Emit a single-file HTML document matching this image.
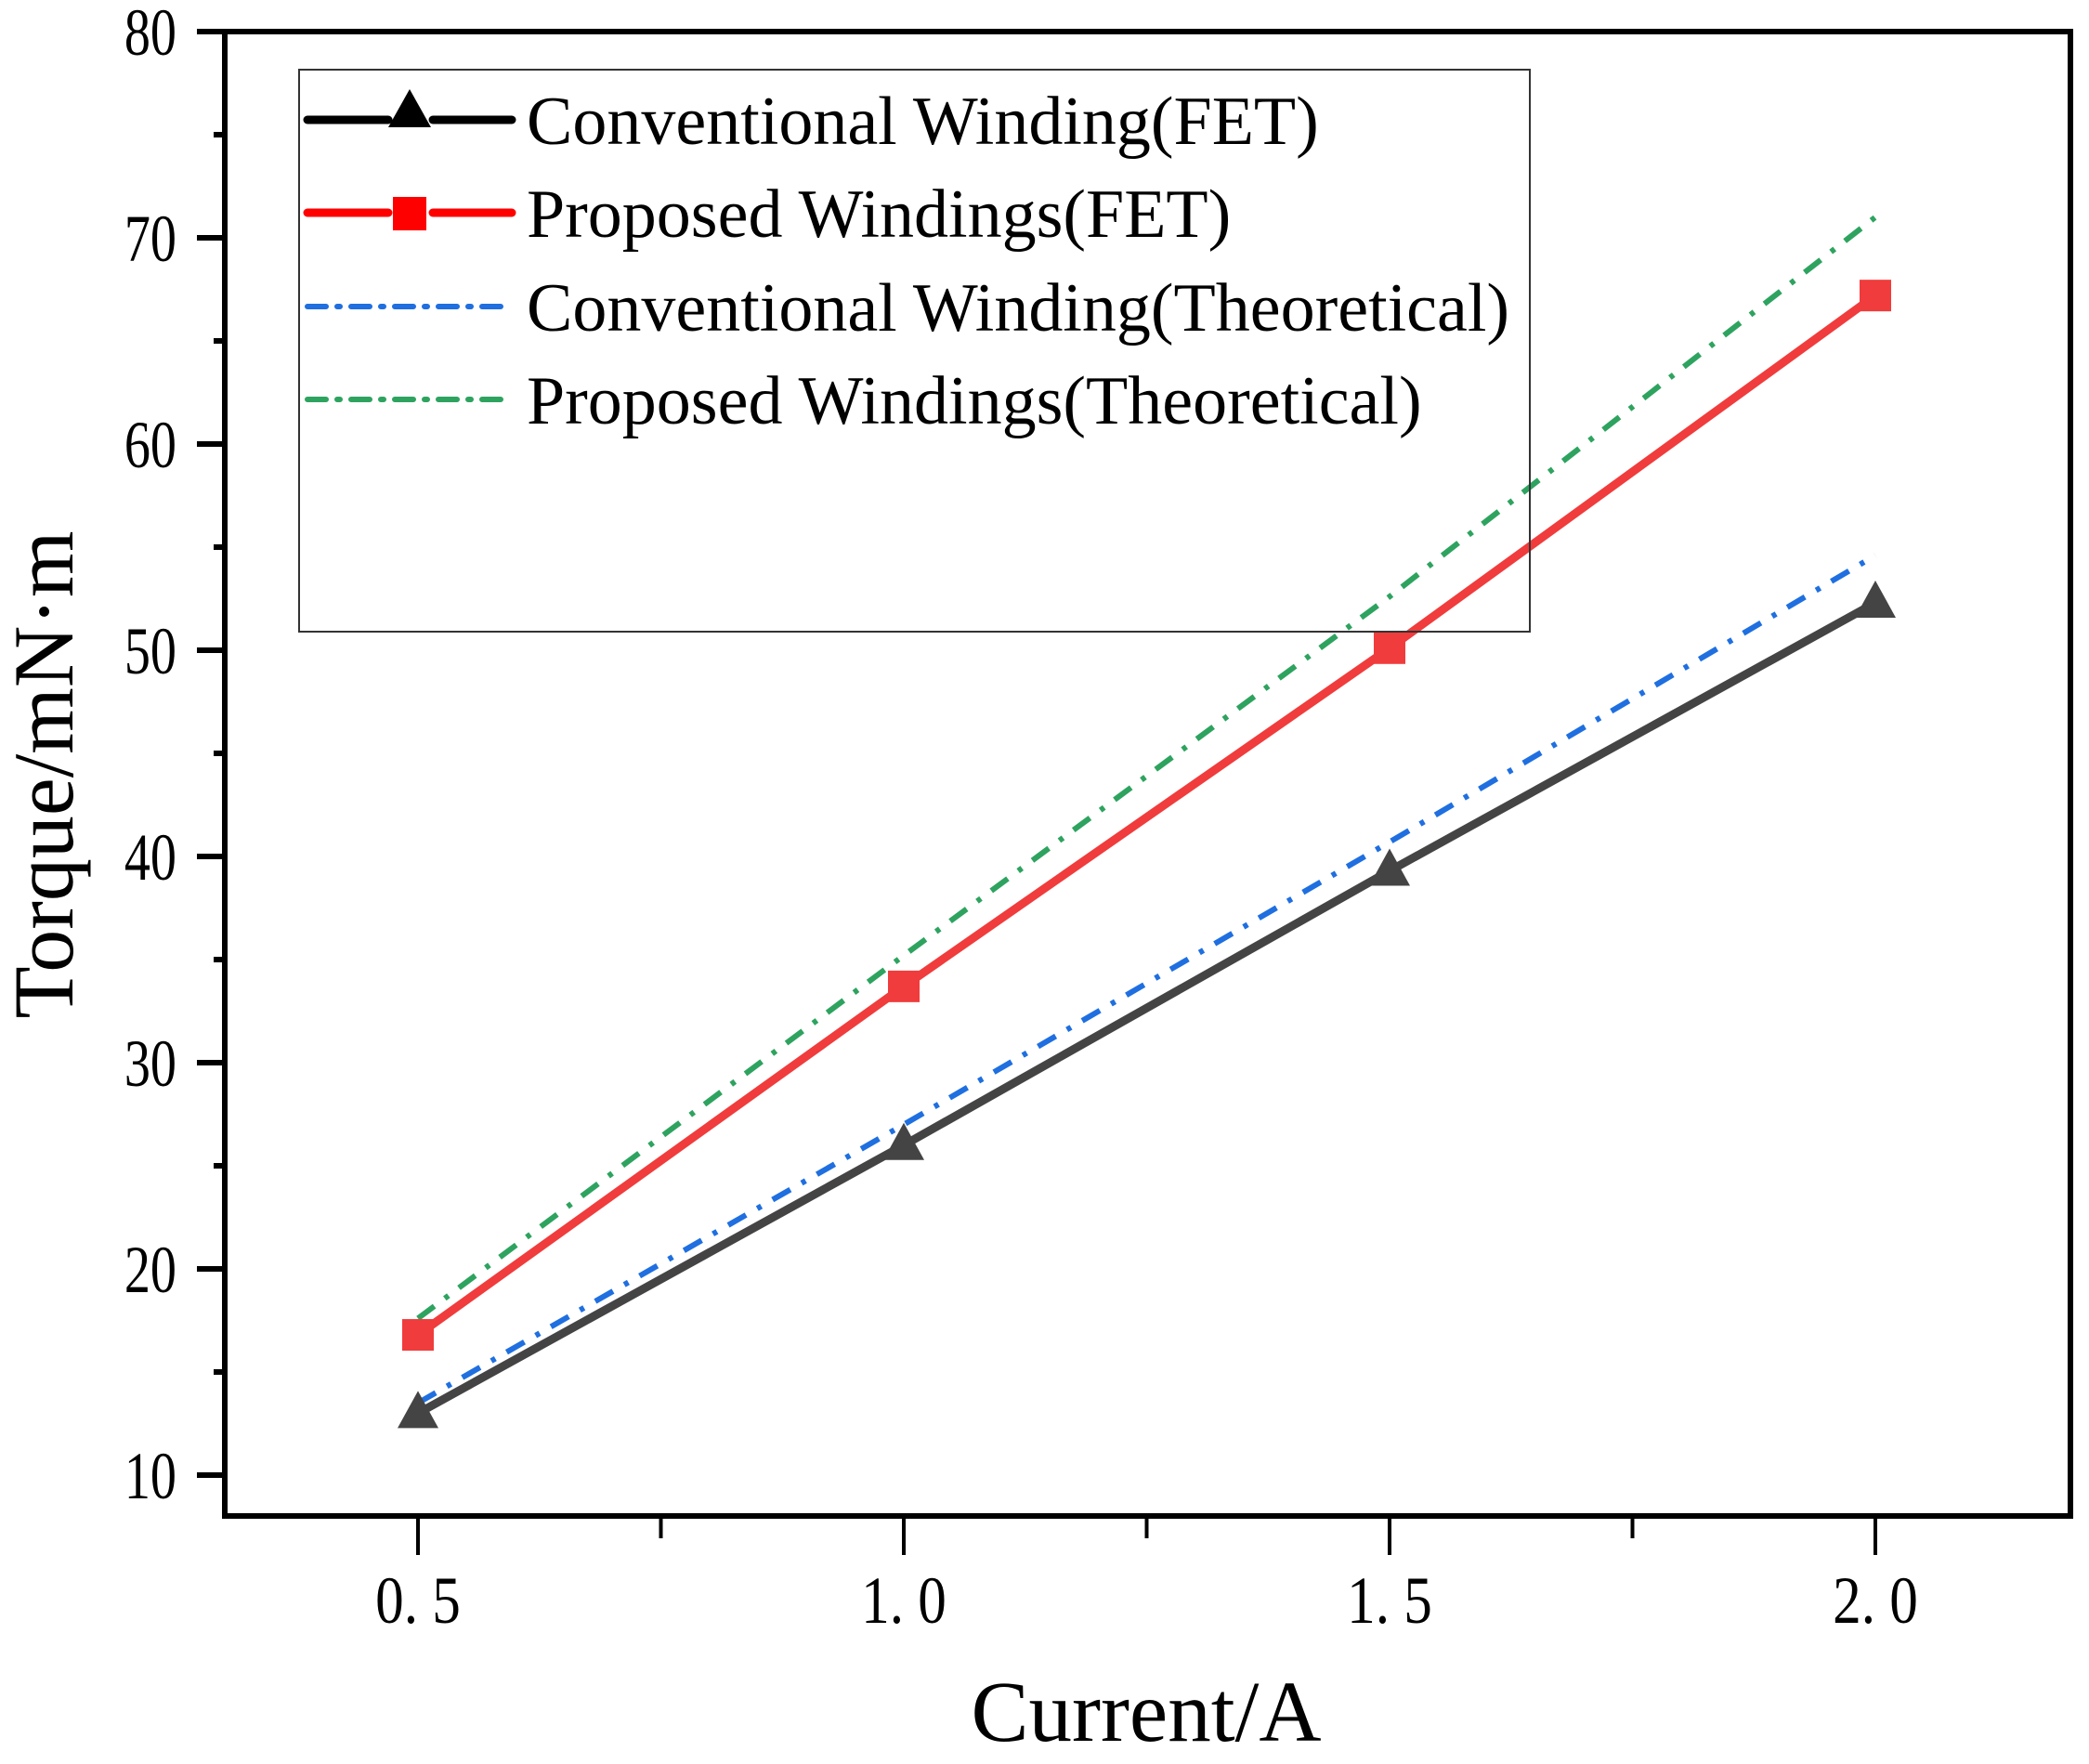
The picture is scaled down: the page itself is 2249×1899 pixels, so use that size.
<!DOCTYPE html>
<html><head><meta charset="utf-8"><style>
html,body{margin:0;padding:0;background:#fff;}
svg{display:block;font-family:"Liberation Serif",serif;}
</style></head><body>
<svg id="chart" width="2249" height="1899" viewBox="0 0 2249 1899" xmlns="http://www.w3.org/2000/svg">
<g id="grid"></g>
<g id="series"></g>
<g id="axes"></g>
<g id="legend"></g>
<text x="1234" y="1874" font-size="93" text-anchor="middle">Current/A</text>
<text transform="translate(78,834) rotate(-90)" font-size="92" text-anchor="middle">Torque/mN·m</text>
</svg>
<script>
const xValues = [0.5, 1.0, 1.5, 2.0];
const convFET = [13.0, 26.0, 39.3, 52.3];
const propFET = [16.8, 33.7, 50.1, 67.2];
const convTheo = [13.5, 27.0, 40.7, 54.6];
const propTheo = [17.6, 35.2, 52.6, 71.0];
const yTicks = [10, 20, 30, 40, 50, 60, 70, 80];
const xTicks = [0.5, 1.0, 1.5, 2.0];
const xTickLabels = ["0. 5", "1. 0", "1. 5", "2. 0"];
const legendLabels = ["Conventional Winding(FET)", "Proposed Windings(FET)", "Conventional Winding(Theoretical)", "Proposed Windings(Theoretical)"];

const NS = "http://www.w3.org/2000/svg";
const L = 242, R = 2229, T = 34, B = 1632;
function xs(v){ return 450 + (v - 0.5) / 1.5 * (2019 - 450); }
function ys(v){ return 1588 - (v - 10) / 70 * (1588 - 34); }
function mk(tag, attrs, parent){ const e = document.createElementNS(NS, tag); for (const k in attrs) e.setAttribute(k, attrs[k]); parent.appendChild(e); return e; }

const axes = document.getElementById('axes');
const series = document.getElementById('series');
const legend = document.getElementById('legend');

let fr = mk('rect', {x:L, y:T, width:R-L, height:B-T, fill:'none', stroke:'#000', 'stroke-width':6}, axes);



yTicks.forEach((t, i) => {
  const y = ys(t);
  let tk = mk('line', {x1:L-30, x2:L, y1:y, y2:y, stroke:'#000', 'stroke-width':6}, axes);
  
  
  let lb = mk('text', {transform:`translate(190,${y+25}) scale(0.78,1)`, 'font-size':72, 'text-anchor':'end'}, axes);
  lb.textContent = String(t);
  
  
  if (i < yTicks.length - 1) {
    const ym = ys(t + 5);
    let mt = mk('line', {x1:L-12, x2:L, y1:ym, y2:ym, stroke:'#000', 'stroke-width':6}, axes);
    
    
  }
});
xTicks.forEach((t, i) => {
  const x = xs(t);
  let tk = mk('line', {x1:x, x2:x, y1:B, y2:B+42, stroke:'#000', 'stroke-width':4}, axes);
  
  
  let lb = mk('text', {transform:`translate(${x},1747) scale(0.85,1)`, 'font-size':72, 'text-anchor':'middle'}, axes);
  lb.textContent = xTickLabels[i];
  
  
  if (i < xTicks.length - 1) {
    const xm = xs(t + 0.25);
    let mt = mk('line', {x1:xm, x2:xm, y1:B, y2:B+24, stroke:'#000', 'stroke-width':4}, axes);
    
    
  }
});

function pts(arr){ return arr.map((v,i)=>xs(xValues[i])+','+ys(v)).join(' '); }
const dashDot = '22,14,5,14';

let g1 = mk('polyline', {points:pts(propTheo), fill:'none', stroke:'#2ea35f', 'stroke-width':6, 'stroke-dasharray':dashDot}, series);


let b1 = mk('polyline', {points:pts(convTheo), fill:'none', stroke:'#1f6fe0', 'stroke-width':6, 'stroke-dasharray':dashDot}, series);


let r1 = mk('polyline', {points:pts(propFET), fill:'none', stroke:'#f03c3c', 'stroke-width':9, 'stroke-linejoin':'round'}, series);


let k1 = mk('polyline', {points:pts(convFET), fill:'none', stroke:'#444', 'stroke-width':9, 'stroke-linejoin':'round'}, series);



propFET.forEach((v,i) => {
  const x = xs(xValues[i]), y = ys(v);
  let s = mk('rect', {x:x-17, y:y-17, width:34, height:34, fill:'#f03c3c'}, series);
  
  
});
convFET.forEach((v,i) => {
  const x = xs(xValues[i]), y = ys(v);
  let s = mk('polygon', {points:`${x},${y-24} ${x-22},${y+16} ${x+22},${y+16}`, fill:'#444'}, series);
  
  
});

let lb = mk('rect', {x:322, y:75, width:1325, height:605, fill:'none', stroke:'#333', 'stroke-width':2}, legend);


const rowsY = [129, 229, 330, 430];
const styles = [
  {c:'#000', w:9, d:null, m:'tri'},
  {c:'#f00', w:9, d:null, m:'sq'},
  {c:'#1f6fe0', w:6, d:'20,12,3,12', m:null},
  {c:'#2ea35f', w:6, d:'20,12,3,12', m:null}
];
legendLabels.forEach((txt, i) => {
  const y = rowsY[i], s = styles[i];
  const g = mk('g', {}, legend);
  
  
  if (s.d) {
    mk('line', {x1:331, x2:551, y1:y, y2:y, stroke:s.c, 'stroke-width':s.w, 'stroke-dasharray':s.d, 'stroke-linecap':'round'}, g);
  } else {
    mk('line', {x1:331, x2:418, y1:y, y2:y, stroke:s.c, 'stroke-width':s.w, 'stroke-linecap':'round'}, g);
    mk('line', {x1:466, x2:551, y1:y, y2:y, stroke:s.c, 'stroke-width':s.w, 'stroke-linecap':'round'}, g);
    if (s.m === 'tri') mk('polygon', {points:`441,${y-33} 418,${y+8} 464,${y+8}`, fill:s.c}, g);
    else mk('rect', {x:423, y:y-17, width:36, height:36, fill:s.c}, g);
  }
  const t = mk('text', {x:567, y:y+26, 'font-size':74}, g);
  t.textContent = txt;
});
</script>
</body></html>
